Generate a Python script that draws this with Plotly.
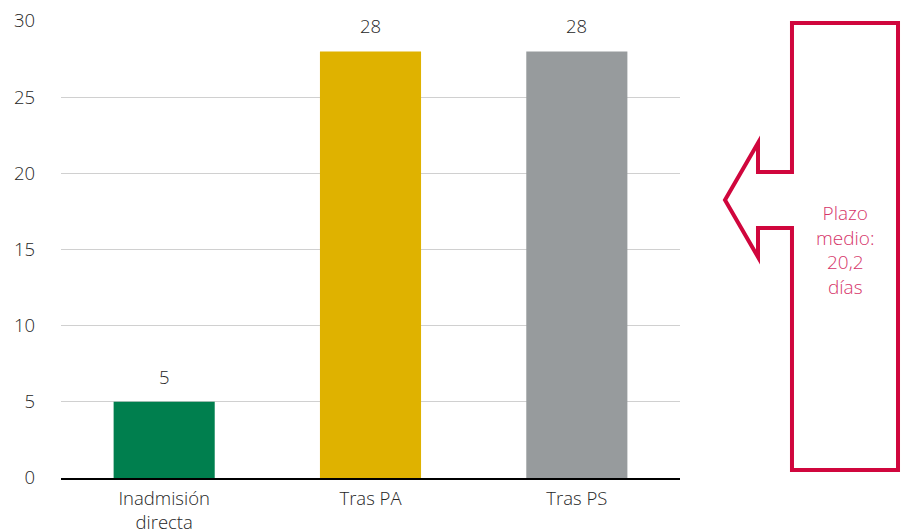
import plotly.graph_objects as go

# Datos
categorias = ["Inadmisión<br>directa", "Tras PA", "Tras PS"]
dias = [5, 28, 28]
colores = ["#007F4E", "#DFB200", "#979B9D"]
y_ticks = [0, 5, 10, 15, 20, 25, 30]
nota = "Plazo<br>medio:<br>20,2<br>días"

W, H = 901, 530
L, R, T, B = 61, 221, 21, 52
pw, ph = W - L - R, H - T - B

def px(x, y):
    """Pixel position -> paper coordinates of the plotting area."""
    return (x - L) / pw, (H - B - y) / ph

FONT = "Open Sans"
TXT = "#262626"
FS = 18.5

fig = go.Figure()
fig.add_trace(go.Bar(
    x=categorias, y=dias, marker=dict(color=colores, line=dict(width=0)),
    width=0.49, hoverinfo="skip",
))

for c, v in zip(categorias, dias):
    fig.add_annotation(x=c, y=v, text=str(v), showarrow=False, yanchor="bottom",
                       yshift=11, font=dict(family=FONT, size=FS, color=TXT, weight=300))

# Flecha con el recuadro del plazo medio
pts = [(792, 172), (758, 172), (758, 143), (725, 200), (758, 257), (758, 228),
       (792, 228), (792, 470), (898, 470), (898, 23), (792, 23)]
path = "M " + " L ".join("{:.4f},{:.4f}".format(*px(x, y)) for x, y in pts) + " Z"
fig.add_shape(type="path", path=path, xref="paper", yref="paper",
              line=dict(color="#D0063D", width=4), layer="above")
fx, fy = px(845, 250)
fig.add_annotation(x=fx, y=fy, xref="paper", yref="paper", text=nota, showarrow=False,
                   xanchor="center", yanchor="middle",
                   font=dict(family=FONT, size=19, color="#D6356A", weight=300),
                   align="center")

fig.update_layout(
    width=W, height=H, margin=dict(l=L, r=R, t=T, b=B),
    paper_bgcolor="white", plot_bgcolor="white", showlegend=False,
    font=dict(family=FONT, size=FS, color=TXT, weight=300),
    bargap=0.51,
)
fig.update_yaxes(range=[0, 30], tickvals=y_ticks, showgrid=True, gridcolor="#D0D0D0",
                 gridwidth=1.3, zeroline=False, showline=False, ticks="",
                 ticklabelstandoff=25, automargin=False,
                 tickfont=dict(family=FONT, size=FS, color=TXT, weight=300))
fig.update_xaxes(showline=True, linecolor="#000000", linewidth=1.5, ticks="",
                 automargin=False, ticklabelstandoff=3,
                 tickfont=dict(family=FONT, size=FS, color=TXT, weight=300))

fig.write_html("out.html")
